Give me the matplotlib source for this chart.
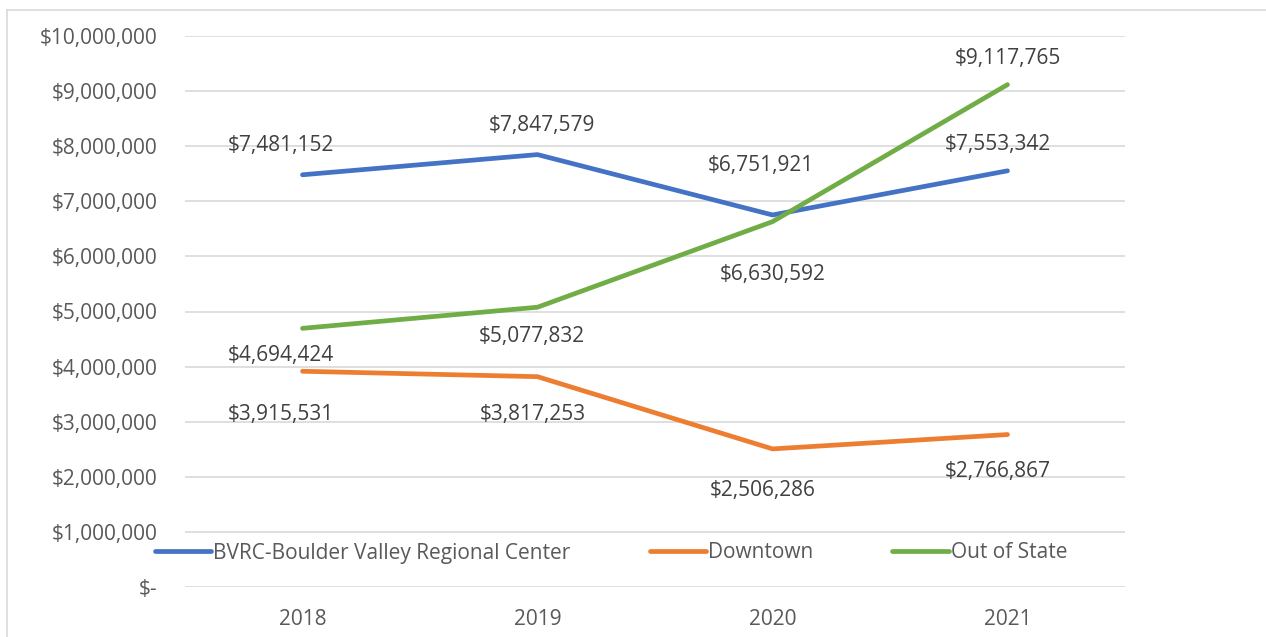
import matplotlib
matplotlib.use('Agg')
import matplotlib.pyplot as plt
from matplotlib.lines import Line2D
from matplotlib.ticker import FuncFormatter

years = ['2018', '2019', '2020', '2021']
bvrc = [7481152, 7847579, 6751921, 7553342]
downtown = [3915531, 3817253, 2506286, 2766867]
out_of_state = [4694424, 5077832, 6630592, 9117765]
series_names = ['BVRC-Boulder Valley Regional Center', 'Downtown', 'Out of State']

colors = ['#4472C4', '#ED7D31', '#70AD47']
# label offsets in pixels (dx, dy), positive dy = up
offsets = [
    [(-22, 29), (4, 29), (-12, 49), (-10, 26)],
    [(-22, -43), (-5, -38), (-10, -42), (-10, -37)],
    [(-22, -27), (-6, -29), (0, -53), (0, 26)],
]

plt.rcParams['font.family'] = ['Open Sans', 'DejaVu Sans']
fs = 15

fig = plt.figure(figsize=(12.66, 6.37), dpi=100)
ax = fig.add_axes([185 / 1266, 50 / 637, 940 / 1266, 551 / 637])

x = list(range(len(years)))
handles = []
for vals, name, c, offs in zip([bvrc, downtown, out_of_state], series_names, colors, offsets):
    h, = ax.plot(x, vals, color=c, lw=3.4, solid_capstyle='round', label=name, zorder=3)
    handles.append(h)
    for xi, v, (dx, dy) in zip(x, vals, offs):
        ax.annotate('${:,.0f}'.format(v), (xi, v), xytext=(dx * 0.72, dy * 0.72),
                    textcoords='offset points', ha='center', va='center',
                    fontsize=fs, color='#404040', zorder=4)

ax.set_xlim(-0.5, 3.5)
ax.set_ylim(0, 10000000)
ax.set_yticks(range(0, 10000001, 1000000))
ax.yaxis.set_major_formatter(FuncFormatter(lambda v, p: '$-' if v == 0 else '${:,.0f}'.format(v)))
ax.set_xticks(x)
ax.set_xticklabels(years)
ax.tick_params(length=0, labelsize=fs, labelcolor='#595959')
ax.tick_params(axis='y', pad=20)
ax.tick_params(axis='x', pad=16)
ax.grid(axis='y', color='#D9D9D9', lw=1.2)
ax.set_axisbelow(True)
for s in ax.spines.values():
    s.set_visible(False)

leg = ax.legend(handles=handles, loc='center', bbox_to_anchor=(426 / 940, (637 - 553 - 50) / 551),
                ncol=3, frameon=False, fontsize=fs, handlelength=2.7, handletextpad=0.1,
                columnspacing=3.8, borderaxespad=0)
for t in leg.get_texts():
    t.set_color('#595959')

# outer chart frame
fig.add_artist(Line2D([7 / 1266, 1], [627 / 637, 627 / 637], color='#D9D9D9', lw=1.2))
fig.add_artist(Line2D([7 / 1266, 7 / 1266], [0, 627 / 637], color='#D9D9D9', lw=1.2))

fig.savefig('out.png', dpi=100)
